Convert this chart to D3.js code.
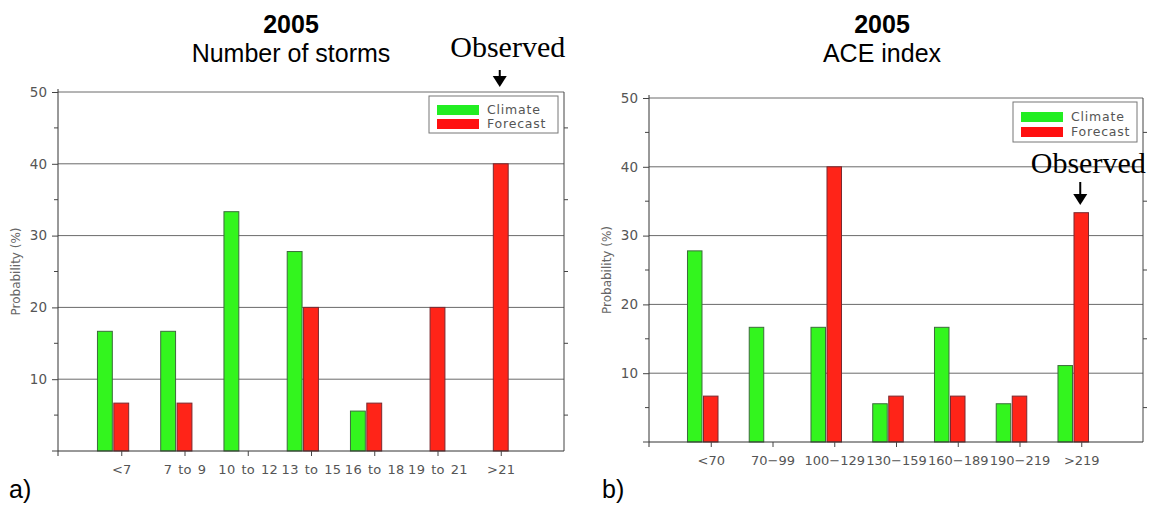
<!DOCTYPE html>
<html>
<head>
<meta charset="utf-8">
<script src="https://cdn.jsdelivr.net/npm/d3@7"></script>
<style>
  body { margin: 0; padding: 0; background: #fff; }
</style>
</head>
<body>
<script>
// storms panel
const stormCats = ["<7", "7 to 9", "10 to 12", "13 to 15", "16 to 18", "19 to 21", ">21"];
const stormClimate = [16.67, 16.67, 33.33, 27.78, 5.56, 0, 0];
const stormForecast = [6.67, 6.67, 0, 20, 6.67, 20, 40];

// ACE panel
const aceCats = ["<70", "70\u221299", "100\u2212129", "130\u2212159", "160\u2212189", "190\u2212219", ">219"];
const aceClimate = [27.78, 16.67, 16.67, 5.56, 16.67, 5.56, 11.11];
const aceForecast = [6.67, 0, 40, 6.67, 6.67, 6.67, 33.33];

const yTicks = [10, 20, 30, 40, 50];
const seriesNames = ["Climate", "Forecast"];

const W = 1149, H = 506;
const svg = d3.select("body").append("svg")
  .attr("width", W).attr("height", H)
  .style("display", "block");

const labelFont = "'DejaVu Sans', sans-serif";

function panel(opt) {
  const x = d3.scalePoint().domain(opt.cats).range([opt.x0, opt.x1]).padding(1);
  const y = d3.scaleLinear().domain([0, 50]).range([opt.y0, opt.y1]);
  const step = x.step();
  const bw = step * 0.235;
  const g = svg.append("g");

  // grid
  g.append("g").selectAll("line")
    .data(yTicks)
    .join("line")
    .attr("x1", opt.x0).attr("x2", opt.x1)
    .attr("y1", d => y(d)).attr("y2", d => y(d))
    .attr("stroke", "#6a6a6a").attr("stroke-width", 1);

  // right border with outward ticks
  g.append("line")
    .attr("x1", opt.x1).attr("x2", opt.x1)
    .attr("y1", y(0)).attr("y2", y(50))
    .attr("stroke", "#444");
  g.append("g").selectAll("line")
    .data(d3.range(5, 50, 10))
    .join("line")
    .attr("x1", opt.x1).attr("x2", opt.x1 + 4)
    .attr("y1", d => y(d)).attr("y2", d => y(d))
    .attr("stroke", "#444");

  // bars
  const rows = opt.cats.map((c, i) => ({c, clim: opt.climate[i], fc: opt.forecast[i]}));
  g.append("g").selectAll("rect")
    .data(rows.filter(d => d.clim > 0))
    .join("rect")
    .attr("x", d => x(d.c) - bw / 2 - 1.5 - bw)
    .attr("y", d => y(d.clim))
    .attr("width", bw)
    .attr("height", d => y(0) - y(d.clim))
    .attr("fill", "#33f51e")
    .attr("stroke", "#3c6b3c").attr("stroke-width", 1);
  g.append("g").selectAll("rect")
    .data(rows.filter(d => d.fc > 0))
    .join("rect")
    .attr("x", d => x(d.c) - bw / 2)
    .attr("y", d => y(d.fc))
    .attr("width", bw)
    .attr("height", d => y(0) - y(d.fc))
    .attr("fill", "#ff2418")
    .attr("stroke", "#7a2a30").attr("stroke-width", 1);

  // y axis
  const ya = g.append("g")
    .attr("transform", `translate(${opt.x0},0)`)
    .call(d3.axisLeft(y).tickValues(yTicks).tickSize(6).tickPadding(5));
  ya.select(".domain").attr("stroke", "#333").attr("d", `M0,${y(0) + 5}V${y(50) - 3}`);
  ya.selectAll(".tick line").attr("stroke", "#444");
  ya.selectAll(".tick text")
    .attr("fill", "#555")
    .style("font-family", labelFont).style("font-size", "13.5px");
  g.append("g").selectAll("line")
    .data(d3.range(5, 50, 10).concat([0]))
    .join("line")
    .attr("x1", opt.x0).attr("x2", d => opt.x0 - (d === 0 ? 6 : 4))
    .attr("y1", d => y(d)).attr("y2", d => y(d))
    .attr("stroke", "#444");

  // x axis
  const xa = g.append("g")
    .attr("transform", `translate(0,${y(0)})`)
    .call(d3.axisBottom(x).tickSize(5).tickPadding(9));
  xa.select(".domain").attr("stroke", "#333").attr("d", `M${opt.x0},0H${opt.x1}`);
  xa.selectAll(".tick line").attr("stroke", "#444");
  xa.selectAll(".tick text")
    .attr("fill", "#555")
    .style("font-family", labelFont).style("font-size", "13px")
    .style("letter-spacing", opt.ls).style("word-spacing", "1.5px");

  // y label
  g.append("text")
    .attr("transform", `translate(${opt.ylx},${(y(0) + y(50)) / 2}) rotate(-90)`)
    .attr("text-anchor", "middle")
    .attr("font-family", labelFont).attr("font-size", 12)
    .attr("fill", "#666")
    .text("Probability (%)");

  // legend
  const lg = g.append("g").attr("transform", `translate(${opt.lx},${opt.ly})`);
  lg.append("rect")
    .attr("width", opt.lw).attr("height", opt.lh)
    .attr("fill", "#fff").attr("stroke", "#777");
  const colors = ["#22ee22", "#ff1010"];
  seriesNames.forEach((n, i) => {
    lg.append("rect")
      .attr("x", 8).attr("y", opt.lsy + i * opt.lrow)
      .attr("width", 42).attr("height", 10)
      .attr("fill", colors[i]);
    lg.append("text")
      .attr("x", 58).attr("y", opt.lsy + 5 + i * opt.lrow)
      .attr("dy", "0.35em")
      .attr("font-family", labelFont).attr("font-size", 12.5)
      .attr("letter-spacing", "0.8px")
      .attr("fill", "#555")
      .text(n);
  });

  // titles
  g.append("text")
    .attr("x", opt.tx).attr("y", 33)
    .attr("text-anchor", "middle")
    .attr("font-family", "'Liberation Sans', Arial, sans-serif")
    .attr("font-size", 25).attr("font-weight", "bold")
    .text("2005");
  g.append("text")
    .attr("x", opt.tx).attr("y", 62)
    .attr("text-anchor", "middle")
    .attr("font-family", "'Liberation Sans', Arial, sans-serif")
    .attr("font-size", 25)
    .text(opt.title);

  // observed marker
  const ox = x(opt.obs);
  g.append("text")
    .attr("x", ox + 7).attr("y", opt.obsY)
    .attr("text-anchor", "middle")
    .attr("font-family", "'Liberation Serif', 'Times New Roman', serif")
    .attr("font-size", 30)
    .text("Observed");
  g.append("line")
    .attr("x1", ox - 1).attr("x2", ox - 1)
    .attr("y1", opt.obsY + opt.a0).attr("y2", opt.obsY + opt.a1 + 1)
    .attr("stroke", "#000").attr("stroke-width", 2);
  g.append("path")
    .attr("d", `M${ox - 8},${opt.obsY + opt.a1}L${ox + 6},${opt.obsY + opt.a1}L${ox - 1},${opt.obsY + opt.a2}Z`)
    .attr("fill", "#000");

  // panel letter
  g.append("text")
    .attr("x", opt.px).attr("y", 498)
    .attr("font-family", "'Liberation Sans', Arial, sans-serif")
    .attr("font-size", 25)
    .text(opt.letter);
}

panel({
  cats: stormCats, climate: stormClimate, forecast: stormForecast,
  x0: 58, x1: 564, y0: 451, y1: 92, ls: "0.3px",
  ylx: 20, lx: 429, ly: 96, lw: 129, lh: 37, lsy: 9, lrow: 14,
  tx: 291, title: "Number of storms",
  obs: ">21", obsY: 57, a0: 13, a1: 19, a2: 30, px: 9, letter: "a)"
});

panel({
  cats: aceCats, climate: aceClimate, forecast: aceForecast,
  x0: 649, x1: 1143, y0: 442, y1: 98, ls: "0px",
  ylx: 611, lx: 1013, ly: 102, lw: 124, lh: 40, lsy: 10, lrow: 15,
  tx: 882, title: "ACE index",
  obs: ">219", obsY: 173, a0: 9, a1: 21, a2: 32, px: 602, letter: "b)"
});
</script>
</body>
</html>
